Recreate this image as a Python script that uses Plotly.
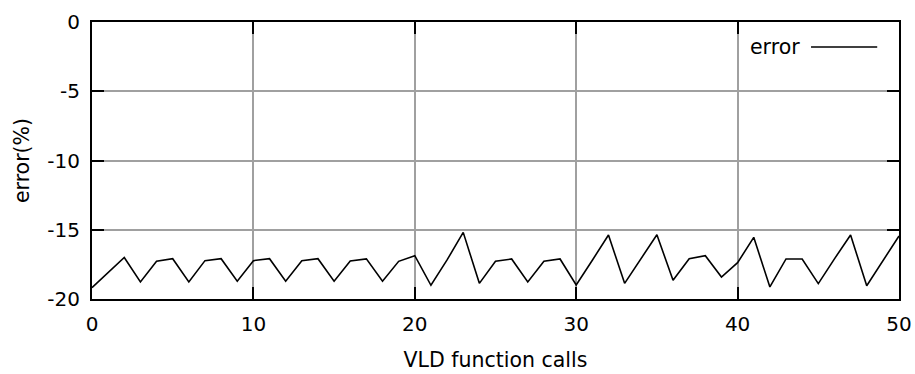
import plotly.graph_objects as go

calls = list(range(0, 51))
error = [-19.18, -18.1, -17.0, -18.77, -17.28, -17.09, -18.77, -17.23, -17.09, -18.72,
         -17.23, -17.09, -18.72, -17.23, -17.09, -18.72, -17.25, -17.1, -18.72, -17.28,
         -16.87, -19.01, -17.18, -15.19, -18.87, -17.28, -17.11, -18.77, -17.28, -17.11,
         -18.99, -17.2, -15.38, -18.87, -17.1, -15.36, -18.65, -17.09, -16.87, -18.41,
         -17.38, -15.55, -19.13, -17.11, -17.11, -18.89, -17.1, -15.38, -19.04, -17.25,
         -15.45]
x_ticks = [0, 10, 20, 30, 40, 50]
y_ticks = [0, -5, -10, -15, -20]

FONT = "DejaVu Sans"
fig = go.Figure()
fig.add_trace(go.Scatter(x=calls, y=error, mode="lines", name="error",
                         line=dict(color="black", width=1.6), showlegend=False))

axis_common = dict(showline=True, linecolor="black", linewidth=2, mirror="ticks",
                   ticks="inside", ticklen=12, tickwidth=2, tickcolor="black",
                   showgrid=True, gridcolor="#a0a0a0", gridwidth=2, zeroline=False,
                   automargin=False,
                   tickfont=dict(family=FONT, size=20, color="black"))

fig.update_xaxes(range=[0, 50], tickvals=x_ticks, ticktext=[str(v) for v in x_ticks],
                 title=dict(text="VLD function calls", font=dict(family=FONT, size=20.5, color="black"),
                            standoff=18),
                 ticklabelstandoff=6, **axis_common)
fig.update_yaxes(range=[-20, 0], tickvals=y_ticks, ticktext=[str(v) for v in y_ticks],
                 title=dict(text="error(%)", font=dict(family=FONT, size=20.5, color="black"),
                            standoff=12),
                 ticklabelstandoff=6, **axis_common)

fig.add_annotation(x=0.880, y=0.91, xref="paper", yref="paper", text="error",
                   showarrow=False, xanchor="right", yanchor="middle",
                   font=dict(family=FONT, size=20.5, color="black"))
fig.add_shape(type="line", xref="paper", yref="paper", x0=0.891, x1=0.973, y0=0.91, y1=0.91,
              line=dict(color="black", width=1.6))

fig.update_layout(width=915, height=374, margin=dict(l=92, r=16, t=22, b=75),
                  plot_bgcolor="white", paper_bgcolor="white",
                  font=dict(family=FONT, size=20, color="black"))
fig.write_html("out.html", config={"displayModeBar": False},
               post_script="document.body.style.margin='0';")
